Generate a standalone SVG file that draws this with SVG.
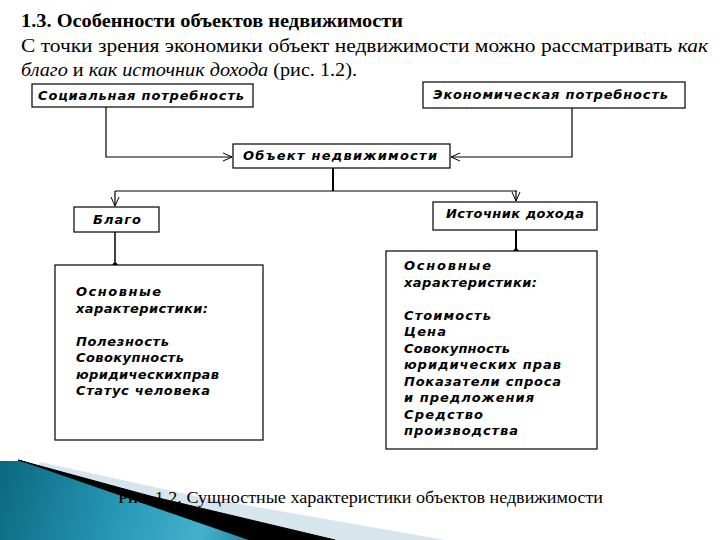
<svg xmlns="http://www.w3.org/2000/svg" width="720" height="540" viewBox="0 0 720 540">
<defs>
<style>
.serif{font-family:"Liberation Serif","DejaVu Serif",serif;fill:#000}
.lbl{font-family:"DejaVu Sans","Liberation Sans",sans-serif;font-weight:bold;font-style:oblique;font-size:13px;fill:#000}
.box{fill:#fff;stroke:#000;stroke-width:1.2}
.conn{fill:none;stroke:#000;stroke-width:1.2}
</style>
<marker id="arr" markerWidth="12" markerHeight="12" refX="10" refY="5" orient="auto" markerUnits="userSpaceOnUse">
<path d="M1,1 L10,5 L1,9" fill="none" stroke="#000" stroke-width="1"/>
</marker>
<linearGradient id="teal" gradientUnits="userSpaceOnUse" x1="0" y1="470" x2="240" y2="540">
<stop offset="0" stop-color="#0d6880"/>
<stop offset="0.5" stop-color="#2698b6"/>
<stop offset="0.85" stop-color="#45b0cc"/>
<stop offset="1" stop-color="#2a8fab"/>
</linearGradient>
</defs>
<rect width="720" height="540" fill="#fff"/>

<g id="heading">
<text class="serif" x="21" y="27" font-size="18" font-weight="bold" textLength="382" lengthAdjust="spacingAndGlyphs">1.3. Особенности объектов недвижимости</text>
<text class="serif" x="21" y="52" font-size="19" textLength="687" lengthAdjust="spacingAndGlyphs">С точки зрения экономики объект недвижимости можно рассматривать <tspan font-style="italic">как</tspan></text>
<text class="serif" x="21" y="76" font-size="19" textLength="336" lengthAdjust="spacingAndGlyphs"><tspan font-style="italic">благо</tspan> и <tspan font-style="italic">как источник дохода</tspan> (рис. 1.2).</text>
</g>

<g id="connectors">
<polyline class="conn" points="106,107 106,157 232,157" marker-end="url(#arr)"/>
<polyline class="conn" points="572,108 572,157 451,157" marker-end="url(#arr)"/>
<line x1="333" y1="168" x2="333" y2="191" stroke="#000" stroke-width="2"/>
<polyline class="conn" points="115,191 517,191"/>
<line class="conn" x1="115" y1="191" x2="115" y2="206" marker-end="url(#arr)"/>
<line class="conn" x1="516" y1="191" x2="516" y2="201" marker-end="url(#arr)"/>
<line x1="115" y1="232" x2="115" y2="265" stroke="#000" stroke-width="1.5"/>
<circle cx="115" cy="265" r="2.5" fill="#000"/>
<line x1="516" y1="230" x2="516" y2="251" stroke="#000" stroke-width="2"/>
<circle cx="516" cy="251" r="2.5" fill="#000"/>
</g>

<g id="social">
<rect class="box" x="32" y="84" width="221" height="23"/>
<text class="lbl" x="38" y="100" textLength="206" lengthAdjust="spacing">Социальная потребность</text>
</g>
<g id="economic">
<rect class="box" x="423" y="82" width="262" height="26"/>
<text class="lbl" x="433" y="99" textLength="235" lengthAdjust="spacing">Экономическая потребность</text>
</g>
<g id="object">
<rect class="box" x="233" y="144" width="217" height="24"/>
<text class="lbl" x="243" y="160" textLength="194" lengthAdjust="spacing">Объект недвижимости</text>
</g>
<g id="blago">
<rect class="box" x="74" y="207" width="85" height="25"/>
<text class="lbl" x="93" y="224" textLength="48" lengthAdjust="spacing">Благо</text>
</g>
<g id="source">
<rect class="box" x="433" y="202" width="164" height="28"/>
<text class="lbl" x="446" y="218" textLength="138" lengthAdjust="spacing">Источник дохода</text>
</g>

<g id="blago-chars">
<rect class="box" x="55" y="265" width="208" height="175"/>
<text class="lbl" x="76" y="296" textLength="85" lengthAdjust="spacing">Основные</text>
<text class="lbl" x="76" y="312.5" textLength="132" lengthAdjust="spacing">характеристики:</text>
<text class="lbl" x="76" y="345.5" textLength="93" lengthAdjust="spacing">Полезность</text>
<text class="lbl" x="76" y="362" textLength="108" lengthAdjust="spacing">Совокупность</text>
<text class="lbl" x="76" y="378.5" textLength="143" lengthAdjust="spacing">юридическихправ</text>
<text class="lbl" x="76" y="395" textLength="134" lengthAdjust="spacing">Статус человека</text>
</g>

<g id="source-chars">
<rect class="box" x="386" y="251" width="211" height="198"/>
<text class="lbl" x="404" y="270" textLength="87" lengthAdjust="spacing">Основные</text>
<text class="lbl" x="404" y="286.5" textLength="133" lengthAdjust="spacing">характеристики:</text>
<text class="lbl" x="404" y="319.5" textLength="87" lengthAdjust="spacing">Стоимость</text>
<text class="lbl" x="404" y="336" textLength="42" lengthAdjust="spacing">Цена</text>
<text class="lbl" x="404" y="352.5" textLength="106" lengthAdjust="spacing">Совокупность</text>
<text class="lbl" x="404" y="369" textLength="157" lengthAdjust="spacing">юридических прав</text>
<text class="lbl" x="404" y="385.5" textLength="157" lengthAdjust="spacing">Показатели спроса</text>
<text class="lbl" x="404" y="402" textLength="130" lengthAdjust="spacing">и предложения</text>
<text class="lbl" x="404" y="418.5" textLength="79" lengthAdjust="spacing">Средство</text>
<text class="lbl" x="404" y="435" textLength="114" lengthAdjust="spacing">производства</text>
</g>

<g id="decoration">
<path d="M40,462 L200,497 L445,540 L0,540 Z" fill="#d7e6ec"/>
<path d="M0,461 L22,461 L250,540 L0,540 Z" fill="url(#teal)"/>
<path d="M18,460 L150,496 L335,540 L250,540 L22,461 Z" fill="#000" stroke="#000" stroke-width="1"/>
</g>

<g id="caption">
<text class="serif" x="118" y="503" font-size="17" textLength="485" lengthAdjust="spacingAndGlyphs">Рис. 1.2. Сущностные характеристики объектов недвижимости</text>
</g>
</svg>
